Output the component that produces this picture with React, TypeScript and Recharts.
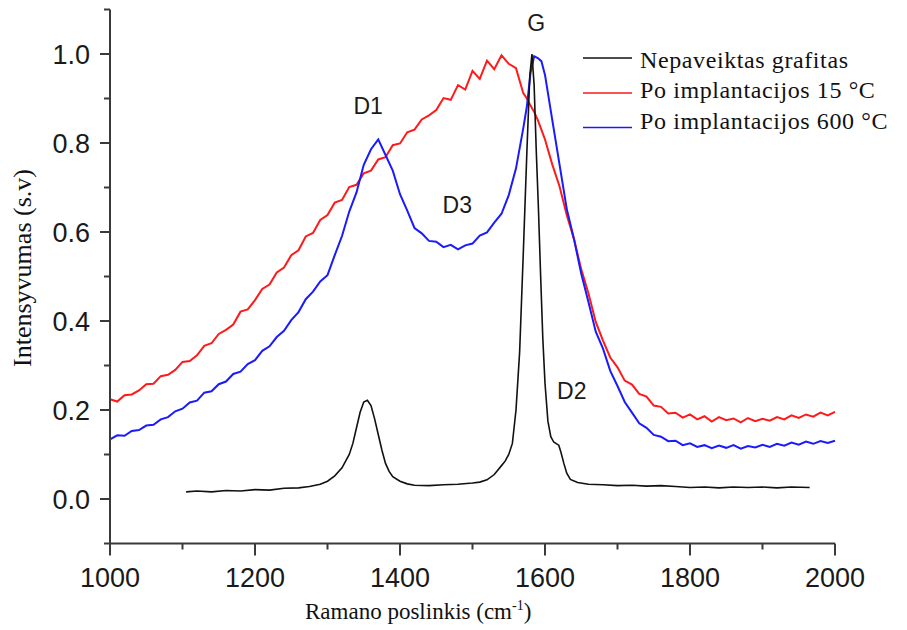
import React from "react";
import { LineChart, Line, XAxis, YAxis, ReferenceDot } from "recharts";

// Raman shift grid (cm-1) shared by the two implanted samples
const ramanShift = [
  1000, 1010, 1020, 1030, 1040, 1050, 1060, 1070, 1080, 1090,
  1100, 1110, 1120, 1130, 1140, 1150, 1160, 1170, 1180, 1190,
  1200, 1210, 1220, 1230, 1240, 1250, 1260, 1270, 1280, 1290,
  1300, 1310, 1320, 1330, 1340, 1350, 1360, 1370, 1380, 1390,
  1400, 1410, 1420, 1430, 1440, 1450, 1460, 1470, 1480, 1490,
  1500, 1510, 1520, 1530, 1540, 1550, 1560, 1570, 1575, 1580,
  1585, 1590, 1595, 1600, 1610, 1620, 1630, 1640, 1650, 1660,
  1670, 1680, 1690, 1700, 1710, 1720, 1730, 1740, 1750, 1760,
  1770, 1780, 1790, 1800, 1810, 1820, 1830, 1840, 1850, 1860,
  1870, 1880, 1890, 1900, 1910, 1920, 1930, 1940, 1950, 1960,
  1970, 1980, 1990, 2000,
];

const intensity15 = [
  0.224, 0.219, 0.233, 0.235, 0.244, 0.258, 0.259, 0.276, 0.279, 0.29,
  0.308, 0.31, 0.323, 0.344, 0.35, 0.371, 0.38, 0.392, 0.421, 0.426,
  0.447, 0.472, 0.482, 0.509, 0.52, 0.548, 0.559, 0.59, 0.598, 0.627,
  0.638, 0.666, 0.672, 0.701, 0.706, 0.732, 0.738, 0.763, 0.768, 0.795,
  0.799, 0.824, 0.83, 0.853, 0.862, 0.874, 0.901, 0.897, 0.93, 0.92,
  0.962, 0.944, 0.985, 0.966, 0.997, 0.978, 0.968, 0.912, 0.9, 0.884,
  0.87, 0.852, 0.83, 0.808, 0.752, 0.703, 0.638, 0.584, 0.516, 0.462,
  0.398, 0.356, 0.318, 0.296, 0.266, 0.257, 0.236, 0.23, 0.21, 0.207,
  0.192, 0.194, 0.183, 0.19, 0.179, 0.186, 0.174, 0.184, 0.177, 0.181,
  0.172, 0.182, 0.175, 0.18, 0.176, 0.184, 0.179, 0.188, 0.182, 0.19,
  0.185, 0.194, 0.188, 0.196,
];

const intensity600 = [
  0.134, 0.143, 0.142, 0.153, 0.155, 0.165, 0.167, 0.179, 0.184, 0.197,
  0.203, 0.217, 0.221, 0.239, 0.242, 0.258, 0.264, 0.281, 0.286, 0.303,
  0.312, 0.333, 0.343, 0.364, 0.378, 0.402, 0.42, 0.449, 0.466, 0.489,
  0.503, 0.548, 0.591, 0.646, 0.689, 0.751, 0.786, 0.808, 0.773, 0.738,
  0.685, 0.648, 0.609, 0.597, 0.58, 0.578, 0.566, 0.571, 0.561, 0.57,
  0.574, 0.592, 0.599, 0.621, 0.641, 0.683, 0.743, 0.833, 0.882, 0.957,
  0.995, 0.991, 0.984, 0.953, 0.852, 0.752, 0.652, 0.584, 0.506, 0.442,
  0.376, 0.338, 0.288, 0.254, 0.218, 0.194, 0.17, 0.16, 0.144, 0.14,
  0.13, 0.131, 0.121, 0.125, 0.117, 0.121, 0.114, 0.12, 0.115, 0.121,
  0.113, 0.119, 0.116, 0.122, 0.117, 0.124, 0.12, 0.127, 0.122, 0.129,
  0.124, 0.13, 0.126, 0.131,
];

// untreated graphite, measured 1105 - 1965 cm-1
const graphiteShift = [
  1105, 1120, 1140, 1160, 1180, 1200, 1220, 1240, 1260, 1275,
  1290, 1300, 1310, 1320, 1330, 1335, 1340, 1345, 1350, 1355,
  1360, 1365, 1370, 1375, 1380, 1385, 1390, 1400, 1410, 1420,
  1440, 1460, 1480, 1500, 1510, 1520, 1530, 1540, 1545, 1550,
  1555, 1560, 1565, 1570, 1575, 1579, 1582, 1585, 1588, 1591,
  1594, 1597, 1600, 1604, 1608, 1612, 1616, 1619, 1622, 1626,
  1630, 1635, 1645, 1660, 1680, 1700, 1720, 1740, 1760, 1780,
  1800, 1820, 1840, 1860, 1880, 1900, 1920, 1940, 1965,
];

const graphiteIntensity = [
  0.016, 0.018, 0.016, 0.019, 0.018, 0.021, 0.02, 0.024, 0.025, 0.028,
  0.033, 0.04, 0.052, 0.07, 0.1, 0.125, 0.16, 0.195, 0.218, 0.222,
  0.21, 0.18, 0.145, 0.11, 0.08, 0.062, 0.05, 0.04, 0.034, 0.031,
  0.03, 0.032, 0.033, 0.036, 0.038, 0.043, 0.055, 0.075, 0.085, 0.1,
  0.125, 0.2, 0.33, 0.55, 0.78, 0.95, 1.0, 0.93, 0.78, 0.65,
  0.5, 0.36, 0.26, 0.175, 0.14, 0.128, 0.124, 0.121, 0.105, 0.08,
  0.058, 0.044, 0.037, 0.033, 0.032, 0.03, 0.031, 0.029, 0.03, 0.028,
  0.026, 0.027, 0.025, 0.027, 0.026, 0.027, 0.025, 0.027, 0.026,
];

const seriesNames = [
  "Nepaveiktas grafitas",
  "Po implantacijos 15 °C",
  "Po implantacijos 600 °C",
];

const shiftTicks = [1000, 1100, 1200, 1300, 1400, 1500, 1600, 1700, 1800, 1900, 2000];
const shiftLabels = [1000, 1200, 1400, 1600, 1800, 2000];
const intensityTicks = [-0.1, 0, 0.1, 0.2, 0.3, 0.4, 0.5, 0.6, 0.7, 0.8, 0.9, 1.0, 1.1];
const intensityLabels = [0, 0.2, 0.4, 0.6, 0.8, 1.0];

const peakNames = ["G", "D1", "D3", "D2"];
const peakShift = [1588, 1356, 1479, 1637];
const peakIntensity = [1.069, 0.884, 0.661, 0.244];

const COLORS = ["#111111", "#ff1a1a", "#1a1aff"];
const AXIS = "#3a3a3a";
const TICK_FONT = "'Liberation Sans', Arial, sans-serif";
const SERIF = "'Liberation Serif', 'Times New Roman', serif";

const zip = (xs: number[], ys: number[]) =>
  xs.map((shift, i) => ({ shift, value: ys[i] }));

const graphiteData = zip(graphiteShift, graphiteIntensity);
const data15 = zip(ramanShift, intensity15);
const data600 = zip(ramanShift, intensity600);

const hasLabel = (v: number, list: number[]) =>
  list.some((m) => Math.abs(m - v) < 1e-6);

const XTick = (props: any) => {
  const { x, y, payload } = props;
  const major = hasLabel(payload.value, shiftLabels);
  return (
    <g>
      <line x1={x} x2={x} y1={y} y2={y + (major ? 12 : 6)} stroke={AXIS} strokeWidth={2} />
      {major && (
        <text x={x} y={y + 43.5} textAnchor="middle" fontSize={27} fontFamily={TICK_FONT} fill="#1a1a1a">
          {payload.value}
        </text>
      )}
    </g>
  );
};

const YTick = (props: any) => {
  const { x, y, payload } = props;
  const major = hasLabel(payload.value, intensityLabels);
  return (
    <g>
      <line x1={x - (major ? 10 : 6)} x2={x} y1={y} y2={y} stroke={AXIS} strokeWidth={2} />
      {major && (
        <text x={x - 20} y={y + 9.5} textAnchor="end" fontSize={27} fontFamily={TICK_FONT} fill="#1a1a1a">
          {payload.value.toFixed(1)}
        </text>
      )}
    </g>
  );
};

const legendRows = [
  { lineY: 58, textY: 67.5 },
  { lineY: 93, textY: 98 },
  { lineY: 127.5, textY: 129 },
];

export default function App() {
  return (
    <div style={{ position: "absolute", left: 0, top: 0, width: 907, height: 630, background: "#fff" }}>
      <LineChart
        width={907}
        height={630}
        margin={{ top: 9.5, right: 72, bottom: 36.5, left: 0 }}
      >
        <XAxis
          type="number"
          dataKey="shift"
          domain={[1000, 2000]}
          ticks={shiftTicks}
          interval={0}
          height={50}
          tickSize={0}
          tickMargin={0}
          tickLine={false}
          axisLine={{ stroke: AXIS, strokeWidth: 2 }}
          tick={(p: any) => <XTick {...p} />}
        />
        <YAxis
          type="number"
          domain={[-0.1, 1.1]}
          ticks={intensityTicks}
          interval={0}
          width={110}
          tickSize={0}
          tickMargin={0}
          tickLine={false}
          axisLine={{ stroke: AXIS, strokeWidth: 2 }}
          tick={(p: any) => <YTick {...p} />}
        />
        <Line
          data={data15}
          dataKey="value"
          name={seriesNames[1]}
          type="linear"
          stroke={COLORS[1]}
          strokeWidth={2}
          dot={false}
          isAnimationActive={false}
        />
        <Line
          data={data600}
          dataKey="value"
          name={seriesNames[2]}
          type="linear"
          stroke={COLORS[2]}
          strokeWidth={2}
          dot={false}
          isAnimationActive={false}
        />
        <Line
          data={graphiteData}
          dataKey="value"
          name={seriesNames[0]}
          type="linear"
          stroke={COLORS[0]}
          strokeWidth={1.6}
          dot={false}
          isAnimationActive={false}
        />
        {peakNames.map((name, i) => (
          <ReferenceDot
            key={name}
            x={peakShift[i]}
            y={peakIntensity[i]}
            r={0}
            fill="none"
            stroke="none"
            label={{
              value: name,
              position: "center",
              fontSize: 23,
              fontFamily: TICK_FONT,
              fill: "#1a1a1a",
            }}
          />
        ))}
      </LineChart>

      <svg
        width={907}
        height={630}
        style={{ position: "absolute", left: 0, top: 0, pointerEvents: "none" }}
      >
        {seriesNames.map((name, i) => (
          <g key={name}>
            <line
              x1={583}
              x2={632}
              y1={legendRows[i].lineY}
              y2={legendRows[i].lineY}
              stroke={COLORS[i]}
              strokeWidth={1.6}
            />
            <text
              x={640}
              y={legendRows[i].textY}
              fontSize={24}
              letterSpacing={0.6}
              fontFamily={SERIF}
              fill="#111"
            >
              {name}
            </text>
          </g>
        ))}
        <text x={305} y={619} fontSize={23} fontFamily={SERIF} fill="#111">
          Ramano poslinkis (cm
          <tspan fontSize={14} dy={-9}>-1</tspan>
          <tspan dy={9}>)</tspan>
        </text>
        <text
          x={31}
          y={268}
          transform="rotate(-90 31 268)"
          textAnchor="middle"
          fontSize={26}
          fontFamily={SERIF}
          fill="#111"
        >
          Intensyvumas (s.v)
        </text>
      </svg>
    </div>
  );
}
